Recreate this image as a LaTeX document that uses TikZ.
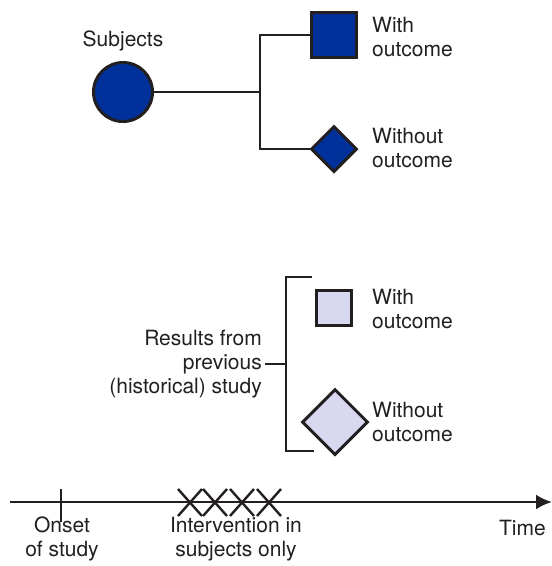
\documentclass[tikz,border=0pt]{standalone}
\usepackage{fontspec}
\setmainfont{TeX Gyre Heros}
\usepackage{xcolor}
\usepackage{tikz}
\usetikzlibrary{calc, shapes.geometric, arrows.meta, positioning}

\definecolor{darkblue}{RGB}{0,48,154}
\definecolor{paleblue}{RGB}{216,217,240}
\definecolor{ink}{RGB}{35,31,32}

\tikzset{
    line/.style={draw=ink, line width=2.6pt},
    shapeline/.style={draw=ink, line width=3pt, inner sep=0pt},
    lbl/.style={font=\fontsize{21}{24}\selectfont, text=ink, inner sep=0pt}
}

\begin{document}
\begin{tikzpicture}[>=latex, x=1pt, y=-1pt]
    \useasboundingbox (0,0) rectangle (552,566);

    % Nhóm đối tượng nghiên cứu
    \node[shapeline, circle, fill=darkblue, minimum size=59pt] (subj) at (123,92) {};
    \node[lbl] (subjlbl) at (123,41) {Subjects};
    \coordinate (branch) at (260,92);
    \coordinate (branchtop) at (260,35);
    \coordinate (branchbot) at (260,149);

    % Kết cục của nhóm đối tượng
    \node[shapeline, rectangle, fill=darkblue, minimum size=45pt] (withA) at (334,35) {};
    \node[shapeline, diamond, fill=darkblue, minimum size=46pt] (withoutA) at (334,149) {};
    \node[lbl, anchor=west, align=left] (withAlbl) at (372,37) {With\\outcome};
    \node[lbl, anchor=west, align=left] (withoutAlbl) at (372,148) {Without\\outcome};

    \draw[line] (subj) -- (branch);
    \draw[line] (withA.west) -- (branchtop) -- (branchbot) -- (withoutA.west);

    % Kết quả từ nghiên cứu trước (lịch sử)
    \node[shapeline, rectangle, fill=paleblue, minimum size=35pt] (withB) at (334,308) {};
    \node[shapeline, diamond, fill=paleblue, minimum size=66pt] (withoutB) at (335,422) {};
    \node[lbl, anchor=west, align=left] (withBlbl) at (372,309) {With\\outcome};
    \node[lbl, anchor=west, align=left] (withoutBlbl) at (372,422) {Without\\outcome};
    \node[lbl, anchor=east, align=right] (hist) at (262,364)
        {Results from\\previous\\(historical) study};

    % Dấu ngoặc
    \coordinate (brtop) at (286,277);
    \coordinate (brbot) at (286,451);
    \draw[draw=ink, line width=1.4pt] ($(brtop)+(26,0)$) -- (brtop) -- (brbot) -- ($(brbot)+(28,0)$);
    \draw[draw=ink, line width=1.4pt] (hist.east) ++(3,0) -- (286,364);

    % Trục thời gian
    \coordinate (tstart) at (10,502);
    \coordinate (tend) at (552,502);
    \draw[line, -{Latex[length=16pt, width=15pt]}] (tstart) -- (tend);
    \draw[line] (61,489) -- (61,522);
    \foreach \xx in {190,215,242,269}
        \draw[draw=ink, line width=2.4pt] (\xx-12,489) -- (\xx+12,516) (\xx-12,516) -- (\xx+12,489);

    % Nhãn trên trục
    \node[lbl, align=center] (onset) at (62,539) {Onset\\of study};
    \node[lbl, align=center] (interv) at (236,539) {Intervention in\\subjects only};
    \node[lbl, anchor=east] (time) at (546,528) {Time};
\end{tikzpicture}
\end{document}
